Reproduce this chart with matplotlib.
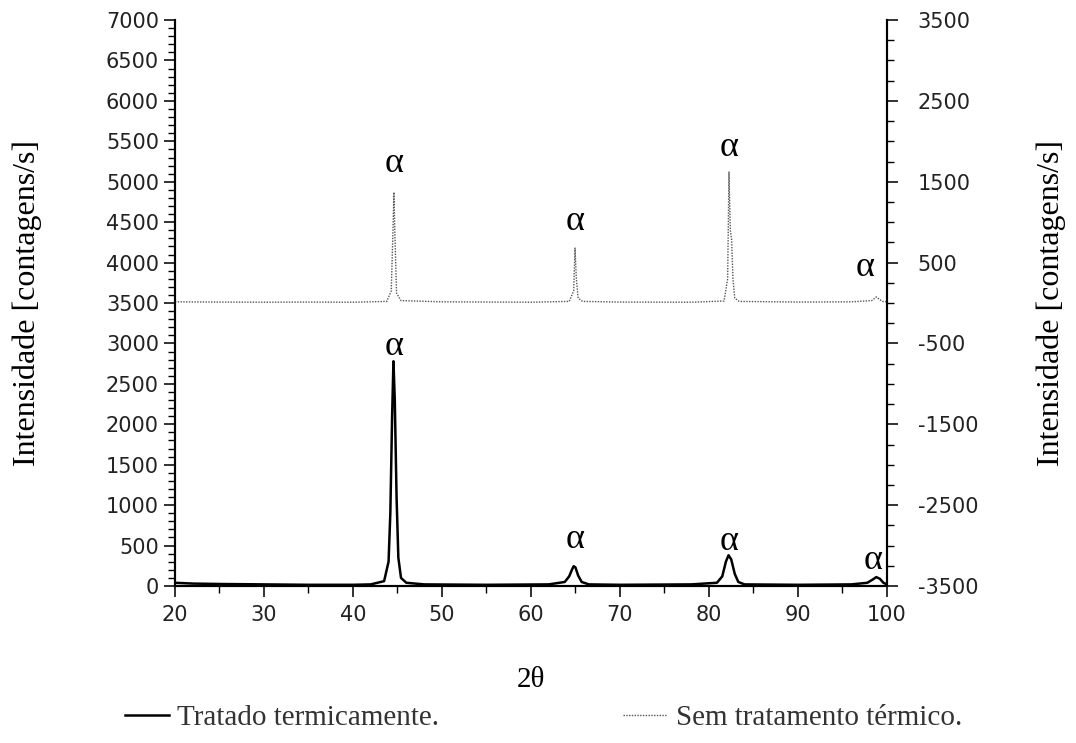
import numpy as np
import matplotlib
matplotlib.use("Agg")
from matplotlib import pyplot as plt
from matplotlib.ticker import MultipleLocator, FixedLocator
from matplotlib.lines import Line2D

# curva tratada termicamente (eixo esquerdo)
x_trat = [20, 22, 25, 30, 35, 40, 42, 43.5, 44.0, 44.2, 44.4, 44.55, 44.7, 44.9, 45.1, 45.4, 46, 48,
          55, 62, 63.8, 64.3, 64.6, 64.8, 65.0, 65.3, 65.7, 66.5,
          70, 78, 80.9, 81.5, 81.9, 82.2, 82.5, 82.9, 83.3, 84,
          90, 96, 97.8, 98.4, 98.8, 99.2, 99.6, 100]
y_trat = [40, 30, 25, 20, 15, 15, 20, 60, 300, 900, 2100, 2780, 2300, 1100, 350, 100, 40, 20,
          15, 20, 50, 120, 200, 245, 230, 130, 50, 20,
          15, 20, 40, 120, 300, 380, 330, 150, 50, 20,
          15, 20, 40, 80, 110, 90, 40, 20]

# curva sem tratamento (eixo direito)
x_sem = [20, 25, 30, 35, 40, 43.8, 44.3, 44.5, 44.6, 44.7, 44.9, 45.4, 50,
         60, 64.3, 64.8, 64.95, 65.1, 65.3, 65.8, 70,
         78, 81.7, 82.1, 82.25, 82.4, 82.55, 82.7, 82.9, 83.4, 90,
         96, 98.3, 98.8, 99.1, 99.5, 100]
y_sem = [15, 12, 10, 12, 10, 20, 150, 900, 1370, 900, 120, 30, 15,
         10, 20, 150, 680, 300, 60, 20, 12,
         10, 25, 300, 1620, 900, 780, 300, 60, 20, 12,
         15, 30, 75, 50, 20, 15]

picos_sem = [(44.6, 1730), (65.0, 1010), (82.3, 1920), (97.6, 440)]
picos_trat = [(44.6, 2960), (65.0, 580), (82.3, 550), (98.4, 310)]

ticks_dir = [-3500, -2500, -1500, -500, 500, 1500, 2500, 3500]

serif = "Liberation Serif"
plt.rcParams["font.family"] = ["DejaVu Sans"]
plt.rcParams["axes.unicode_minus"] = False

fig = plt.figure(figsize=(10.76, 7.43), dpi=100)
ax = fig.add_axes([0.1626, 0.2113, 0.6617, 0.7617])
ax2 = ax.twinx()

ax.plot(x_trat, y_trat, color="black", lw=1.8)
ax2.plot(x_sem, y_sem, color="#555555", lw=1.0, linestyle=(0, (1, 1)))

ax.set_xlim(20, 100)
ax.set_ylim(0, 7000)
ax2.set_ylim(-3500, 3500)

ax.xaxis.set_major_locator(MultipleLocator(10))
ax.xaxis.set_minor_locator(MultipleLocator(5))
ax.yaxis.set_major_locator(MultipleLocator(500))
ax.yaxis.set_minor_locator(MultipleLocator(100))
ax2.yaxis.set_major_locator(FixedLocator(ticks_dir))
ax2.yaxis.set_minor_locator(MultipleLocator(250))

for a in (ax, ax2):
    a.spines["top"].set_visible(False)
    for s in a.spines.values():
        s.set_linewidth(1.5)
    a.tick_params(which="major", length=8, width=1.3, labelsize=15, colors="#222222")
    a.tick_params(which="minor", length=5, width=1.0)
ax.tick_params(axis="x", which="major", pad=6)
ax2.tick_params(axis="y", which="major", pad=14)

ax.set_xlabel("2θ", family=serif, fontsize=21, labelpad=30)
ax.set_ylabel("Intensidade [contagens/s]", family=serif, fontsize=23, labelpad=46)
ax2.set_ylabel("Intensidade [contagens/s]", family=serif, fontsize=23, labelpad=42)

for xp, yp in picos_sem:
    ax2.text(xp, yp, "α", family=serif, fontsize=26, ha="center", va="center")
for xp, yp in picos_trat:
    ax.text(xp, yp, "α", family=serif, fontsize=26, ha="center", va="center")

handles = [Line2D([], [], color="black", lw=1.8),
           Line2D([], [], color="#555555", lw=1.0, linestyle=(0, (1, 1)))]
fig.legend(handles, ["Tratado termicamente.", "Sem tratamento térmico."],
           loc="center", bbox_to_anchor=(0.505, 0.034), ncol=2, frameon=False,
           prop={"family": serif, "size": 21}, handlelength=1.5, handletextpad=0.3,
           columnspacing=6.3, labelcolor="#333333")

fig.savefig("out.png", dpi=100)
